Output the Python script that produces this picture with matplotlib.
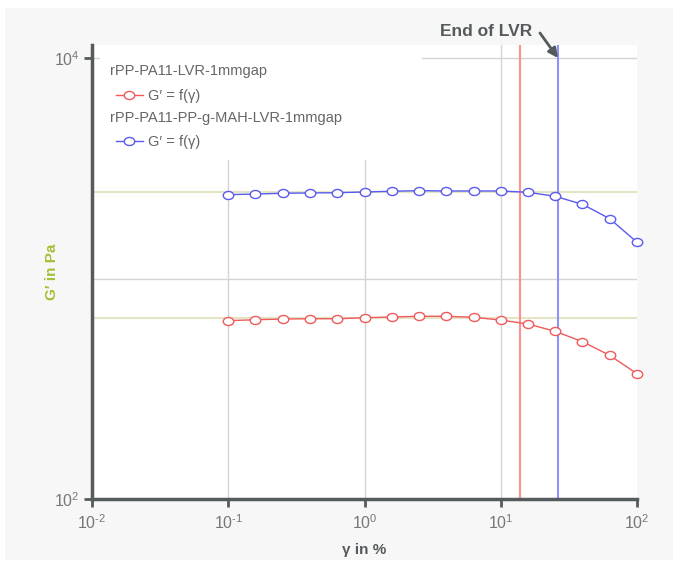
import numpy as np
import matplotlib
matplotlib.use("Agg")
import matplotlib.pyplot as plt
from matplotlib.markers import MarkerStyle
from matplotlib.transforms import Affine2D
from matplotlib.patches import Rectangle
from matplotlib.legend import Legend

plt.rcParams['font.family'] = ['Liberation Sans', 'DejaVu Sans']
plt.rcParams['mathtext.fontset'] = 'custom'
plt.rcParams['mathtext.rm'] = 'Liberation Sans'
plt.rcParams['mathtext.it'] = 'Liberation Sans'
plt.rcParams['mathtext.bf'] = 'Liberation Sans:bold'

# ---- data ----
strain = [0.1, 0.158, 0.251, 0.398, 0.631, 1.0, 1.585, 2.51, 3.98, 6.31,
          10.0, 15.85, 25.1, 39.8, 63.1, 100.0]
g_red = [644, 650, 655, 657, 657, 664, 669, 674, 674, 667,
         648, 622, 576, 517, 448, 370]
g_blue = [2400, 2416, 2435, 2443, 2450, 2468, 2487, 2502, 2494, 2494,
          2494, 2460, 2359, 2170, 1867, 1460]
plateau_red = 662
plateau_blue = 2468
lvr_red = 13.8
lvr_blue = 26.3
series_names = ["rPP-PA11-LVR-1mmgap", "rPP-PA11-PP-g-MAH-LVR-1mmgap"]
entry_label = "G\u2032 = f(\u03b3)"
x_ticks = [0.01, 0.1, 1, 10, 100]
x_ticklabels = [r"$10^{\text{-}2}$", r"$10^{\text{-}1}$", r"$10^{0}$", r"$10^{1}$", r"$10^{2}$"]
y_ticks = [100, 10000]
y_ticklabels = [r"$10^{2}$", r"$10^{4}$"]

RED = "#f05a5a"
BLUE = "#5a5af0"
RED_V = "#ff9090"
BLUE_V = "#9090ff"
OLIVE = "#e4e5c4"
GRID = "#d4d4d4"
DARK = "#555a5c"
TXT = "#666666"

fig = plt.figure(figsize=(6.78, 5.65), dpi=100, facecolor="white")
fig.patches.append(Rectangle((5/678, 5/565), 668/678, 552/565, transform=fig.transFigure,
                             facecolor="#f7f7f7", edgecolor="none", zorder=-10))

ax = fig.add_axes([92/678, 66/565, 545/678, 454/565])
ax.set_facecolor("white")
ax.set_xscale("log")
ax.set_yscale("log")
ax.set_xlim(0.01, 100)
ax.set_ylim(100, 10**(4 + 13/220.5))

# grid
for gx in [0.1, 1, 10]:
    ax.axvline(gx, color=GRID, lw=1, zorder=1)
for gy in [1000, 10000]:
    ax.axhline(gy, color=GRID, lw=1, zorder=1)

# legend background area covering grid
ax.add_patch(Rectangle((0.015, 0.747), 0.59, 0.26, transform=ax.transAxes,
                       facecolor="white", edgecolor="none", zorder=1.5))

# plateau lines
ax.axhline(plateau_blue, color=OLIVE, lw=1.5, zorder=2)
ax.axhline(plateau_red, color=OLIVE, lw=1.5, zorder=2)

# LVR lines
ax.axvline(lvr_red, color=RED_V, lw=1.5, zorder=3)
ax.axvline(lvr_blue, color=BLUE_V, lw=1.5, zorder=3)

mk = MarkerStyle('o', transform=Affine2D().scale(1.3, 1.0))
l1, = ax.plot(strain, g_red, color=RED, lw=1, marker=mk, ms=5.8, mfc="white",
              mec=RED, mew=1, zorder=4, clip_on=False)
l2, = ax.plot(strain, g_blue, color=BLUE, lw=1, marker=mk, ms=5.8, mfc="white",
              mec=BLUE, mew=1, zorder=4, clip_on=False)

# legend (group titles + entries)
title_y = [0.943, 0.839]
entry_y = [0.888, 0.786]
for name, ty in zip(series_names, title_y):
    ax.text(0.033, ty, name, transform=ax.transAxes, ha="left", va="center",
            fontsize=10.5, color=TXT, zorder=6)
for line, ey in zip([l1, l2], entry_y):
    lg = Legend(ax, [line], [entry_label], loc="center left",
                bbox_to_anchor=(0.044, ey), frameon=False, fontsize=10.5,
                handlelength=1.85, handletextpad=0.35, borderaxespad=0, borderpad=0)
    for t in lg.get_texts():
        t.set_color(TXT)
    lg.set_zorder(6)
    ax.add_artist(lg)

# spines / ticks
for s in ["top", "right"]:
    ax.spines[s].set_visible(False)
for s in ["left", "bottom"]:
    ax.spines[s].set_color(DARK)
    ax.spines[s].set_linewidth(2.5)
    ax.spines[s].set_zorder(5)
ax.set_xticks(x_ticks)
ax.set_xticklabels(x_ticklabels)
ax.set_yticks(y_ticks)
ax.set_yticklabels(y_ticklabels)
ax.minorticks_off()
ax.tick_params(axis="both", direction="out", length=6, width=2, color=DARK,
               labelcolor="#777777", labelsize=11.5)
ax.tick_params(axis="x", pad=4)
ax.tick_params(axis="y", pad=3)

ax.set_xlabel("\u03b3 in %", fontsize=11, fontweight="bold", color=DARK, labelpad=8)
ax.set_ylabel("G\u2032 in Pa", fontsize=11, fontweight="bold", color="#a3c033")
ax.yaxis.set_label_coords(-33/545, (499-272)/454)

ax.text(16.9, 10**(4 + 26/220.5), "End of LVR", ha="right", va="center",
        fontsize=12.5, fontweight="bold", color=DARK, clip_on=False)
ax.annotate("", xy=(lvr_blue, 10000), xycoords="data",
            xytext=(19.4, 10**(4 + 25/220.5)), textcoords="data",
            annotation_clip=False,
            arrowprops=dict(arrowstyle="-|>", color=DARK, lw=2, shrinkA=0, shrinkB=0,
                            mutation_scale=14))

fig.savefig("out.png", dpi=100, facecolor="white")
